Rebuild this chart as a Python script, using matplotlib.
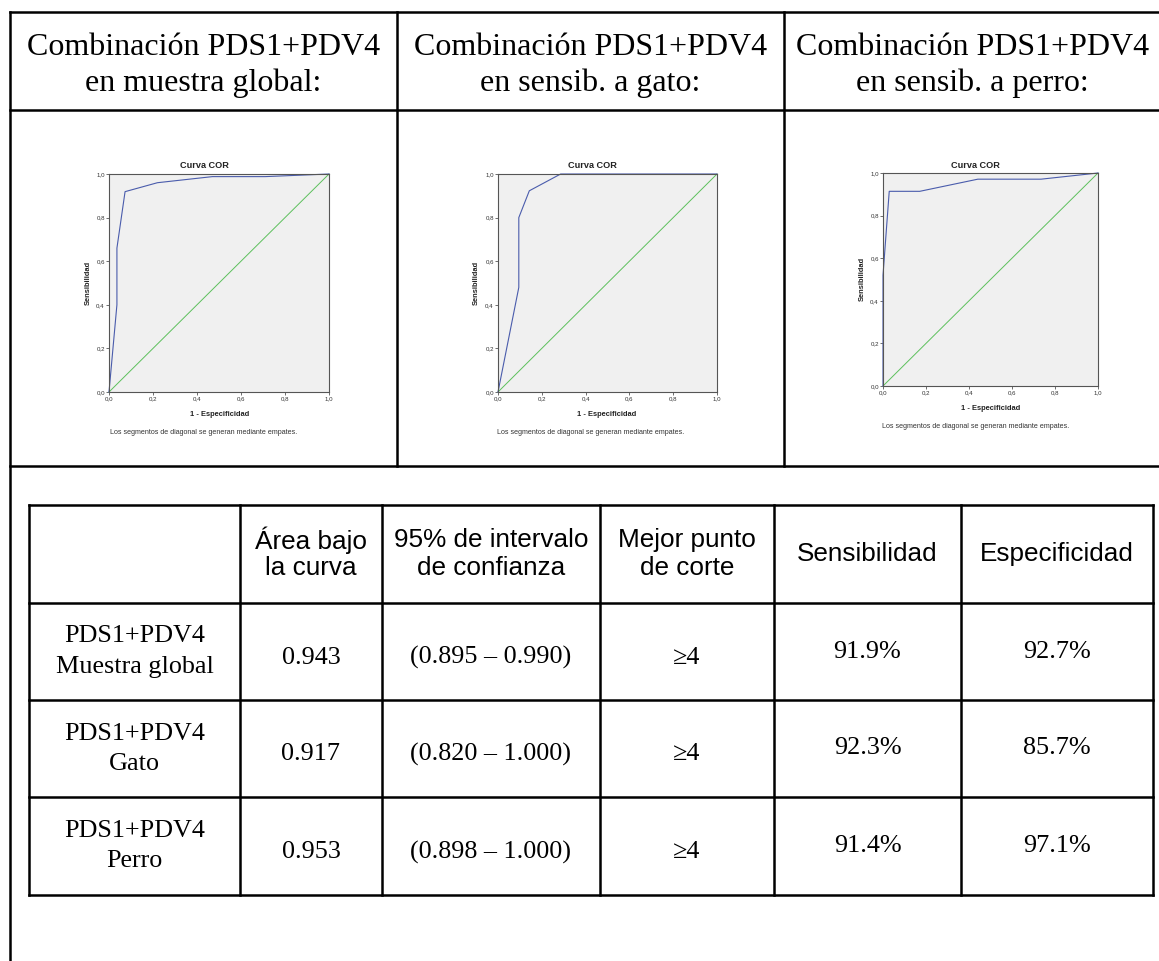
import matplotlib
matplotlib.use("Agg")
import matplotlib.pyplot as plt

W, H = 1159, 961
DPI = 100

# ---------------- data ----------------
panel_titles = [
    ("Combinación PDS1+PDV4", "en muestra global:"),
    ("Combinación PDS1+PDV4", "en sensib. a gato:"),
    ("Combinación PDS1+PDV4", "en sensib. a perro:"),
]

global_fpr = [0.0, 0.036, 0.036, 0.073, 0.22, 0.47, 0.71, 1.0]
global_tpr = [0.0, 0.40, 0.66, 0.919, 0.96, 0.988, 0.988, 1.0]
gato_fpr = [0.0, 0.095, 0.095, 0.143, 0.286, 1.0]
gato_tpr = [0.0, 0.48, 0.80, 0.923, 1.0, 1.0]
perro_fpr = [0.0, 0.0, 0.029, 0.171, 0.441, 0.735, 1.0]
perro_tpr = [0.0, 0.52, 0.914, 0.914, 0.971, 0.971, 1.0]

tick_values = [0.0, 0.2, 0.4, 0.6, 0.8, 1.0]
tick_labels = ["0,0", "0,2", "0,4", "0,6", "0,8", "1,0"]

col_headers = ["", "Área bajo\nla curva", "95% de intervalo\nde confianza",
               "Mejor punto\nde corte", "Sensibilidad", "Especificidad"]
row_labels = ["PDS1+PDV4\nMuestra global", "PDS1+PDV4\nGato", "PDS1+PDV4\nPerro"]
auc_values = ["0.943", "0.917", "0.953"]
ci_values = ["(0.895 – 0.990)", "(0.820 – 1.000)", "(0.898 – 1.000)"]
cut_values = ["≥4", "≥4", "≥4"]
sens_values = ["91.9%", "92.3%", "91.4%"]
spec_values = ["92.7%", "85.7%", "97.1%"]

# ---------------- figure ----------------
fig = plt.figure(figsize=(W / DPI, H / DPI), dpi=DPI)
fig.patch.set_facecolor("white")
base = fig.add_axes([0, 0, 1, 1])
base.set_xlim(0, W)
base.set_ylim(H, 0)
base.axis("off")

LW = 1.8
def hline(y, x0, x1):
    base.plot([x0, x1], [y, y], color="black", lw=LW, solid_capstyle="projecting")
def vline(x, y0, y1):
    base.plot([x, x], [y0, y1], color="black", lw=LW, solid_capstyle="projecting")

# outer frame
frame_l, frame_r, frame_t = 10, 1161, 12
hline(frame_t, frame_l, frame_r)
hline(110, frame_l, frame_r)
hline(466, frame_l, frame_r)
vline(frame_l, frame_t, H + 5)
vline(frame_r, frame_t, H + 5)
for x in (397, 784):
    vline(x, frame_t, 466)

# panel titles
serif = ["Liberation Serif", "DejaVu Serif"]
sans = ["Liberation Sans", "DejaVu Sans"]
panel_centers = [203.5, 590.5, 972.5]
for cx, (l1, l2) in zip(panel_centers, panel_titles):
    base.text(cx, 55, l1, ha="center", va="baseline", fontsize=23, family=serif)
    base.text(cx, 91, l2, ha="center", va="baseline", fontsize=23, family=serif)

# ---------------- ROC plots ----------------
plots = [
    dict(box=(109, 174, 329, 392), fpr=global_fpr, tpr=global_tpr,
         title=(204, 166), xlab=(220, 414), ylab=(88, 283), note=(203.5, 433)),
    dict(box=(498, 174, 717, 392), fpr=gato_fpr, tpr=gato_tpr,
         title=(592, 166), xlab=(607, 414), ylab=(476, 283), note=(591, 433)),
    dict(box=(883, 173, 1098, 386), fpr=perro_fpr, tpr=perro_tpr,
         title=(975.5, 166), xlab=(990.5, 408), ylab=(862, 279), note=(976, 426)),
]
for p in plots:
    x0, y0, x1, y1 = p["box"]
    ax = fig.add_axes([x0 / W, 1 - y1 / H, (x1 - x0) / W, (y1 - y0) / H])
    ax.set_facecolor("#f0f0f0")
    ax.set_xlim(0, 1)
    ax.set_ylim(0, 1)
    ax.plot([0, 1], [0, 1], color="#5cc05c", lw=0.7, clip_on=False)
    ax.plot(p["fpr"], p["tpr"], color="#4a5cac", lw=0.8, clip_on=False)
    for s in ax.spines.values():
        s.set_color("#555555")
        s.set_linewidth(0.8)
    ax.set_xticks(tick_values)
    ax.set_xticklabels(tick_labels)
    ax.set_yticks(tick_values)
    ax.set_yticklabels(tick_labels)
    ax.tick_params(length=2, width=0.6, color="#555555", labelsize=4.4,
                   labelcolor="#333333", pad=1)
    for lab in ax.get_xticklabels() + ax.get_yticklabels():
        lab.set_family(sans)
    tx, ty = p["title"]
    base.text(tx, ty, "Curva COR", ha="center", va="center", fontsize=6.6,
              family=sans, fontweight="bold", color="#222222")
    lx, ly = p["xlab"]
    base.text(lx, ly, "1 - Especificidad", ha="center", va="center", fontsize=5.4,
              family=sans, fontweight="bold", color="#222222")
    yx, yy = p["ylab"]
    base.text(yx, yy, "Sensibilidad", ha="center", va="center", fontsize=5.4,
              family=sans, fontweight="bold", color="#222222", rotation=90)
    nx, ny = p["note"]
    base.text(nx, ny, "Los segmentos de diagonal se generan mediante empates.",
              ha="center", va="center", fontsize=5.1, family=sans, color="#333333")

# ---------------- table ----------------
col_x = [29, 240, 382, 600, 774, 961, 1153]
row_y = [505, 603, 700, 797, 895]
for y in row_y:
    hline(y, col_x[0], col_x[-1])
for x in col_x:
    vline(x, row_y[0], row_y[-1])

col_c = [(col_x[i] + col_x[i + 1]) / 2 for i in range(len(col_x) - 1)]
FS = 18.8
hy = (row_y[0] + row_y[1]) / 2
for cx, txt in zip(col_c, col_headers):
    if not txt:
        continue
    lines = txt.split("\n")
    if len(lines) == 2:
        base.text(cx, hy - 14, lines[0], ha="center", va="center", fontsize=FS, family=sans)
        base.text(cx, hy + 14, lines[1], ha="center", va="center", fontsize=FS, family=sans)
    else:
        base.text(cx, hy, lines[0], ha="center", va="center", fontsize=FS, family=sans)

for i in range(3):
    ry = (row_y[i + 1] + row_y[i + 2]) / 2
    l1, l2 = row_labels[i].split("\n")
    base.text(col_c[0], ry - 15, l1, ha="center", va="center", fontsize=FS, family=serif)
    base.text(col_c[0], ry + 15, l2, ha="center", va="center", fontsize=FS, family=serif)
    base.text(col_c[1], ry + 6, auc_values[i], ha="center", va="center", fontsize=FS, family=serif)
    base.text(col_c[2], ry + 6, ci_values[i], ha="center", va="center", fontsize=FS, family=serif)
    base.text(col_c[3], ry + 6, cut_values[i], ha="center", va="center", fontsize=FS, family=serif)
    base.text(col_c[4], ry, sens_values[i], ha="center", va="center", fontsize=FS, family=serif)
    base.text(col_c[5], ry, spec_values[i], ha="center", va="center", fontsize=FS, family=serif)

fig.savefig("out.png", dpi=DPI, facecolor="white")
